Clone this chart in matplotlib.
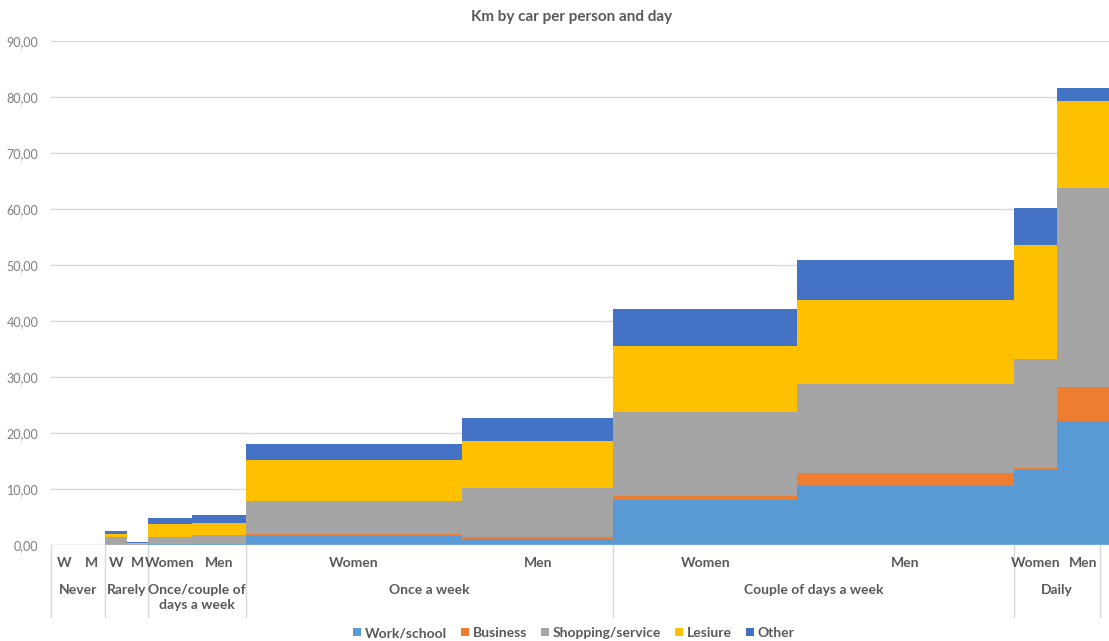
import numpy as np
import matplotlib
matplotlib.use("Agg")
import matplotlib.pyplot as plt
from matplotlib.patches import Patch
from matplotlib.transforms import blended_transform_factory

plt.rcParams['font.family'] = ['Lato', 'DejaVu Sans']

# Frequency groups and the two columns (women / men) inside each group
groups = ["Never", "Rarely", "Once/couple of\ndays a week", "Once a week",
          "Couple of days a week", "Daily"]
sub_labels = ["W", "M", "W", "M", "Women", "Men", "Women", "Men",
              "Women", "Men", "Women", "Men"]
group_of_bar = [0, 0, 1, 1, 2, 2, 3, 3, 4, 4, 5, 5]

# Column widths (share of respondents)
widths = [2.7, 2.7, 2.17, 2.16, 4.34, 5.4, 21.66, 15.1, 18.4, 21.64, 4.3, 5.3]

# Km by car per person and day, by purpose
work_school = [0.0, 0.0, 0.05, 0.05, 0.10, 0.10, 1.60, 1.07, 8.00, 10.50, 13.50, 22.20]
business    = [0.0, 0.0, 0.00, 0.00, 0.05, 0.05, 0.30, 0.42, 0.80, 2.30, 0.30, 6.00]
shopping    = [0.0, 0.0, 1.45, 0.20, 1.35, 1.65, 6.00, 8.75, 14.90, 15.90, 19.40, 35.60]
leisure     = [0.0, 0.0, 0.55, 0.05, 2.25, 2.20, 7.30, 8.33, 11.90, 15.05, 20.40, 15.40]
other       = [0.0, 0.0, 0.45, 0.30, 1.00, 1.35, 2.80, 4.17, 6.50, 7.15, 6.50, 2.35]

series_names = ["Work/school", "Business", "Shopping/service", "Lesiure", "Other"]
series_values = [work_school, business, shopping, leisure, other]
series_colors = ["#5B9BD5", "#ED7D31", "#A5A5A5", "#FFC000", "#4472C4"]

y_ticks = [0, 10, 20, 30, 40, 50, 60, 70, 80, 90]

W, H = 1109, 641
fig = plt.figure(figsize=(W / 100, H / 100), dpi=100)
ax = fig.add_axes([51 / W, 1 - 545 / H, (W - 51) / W, 504 / H])

w = np.array(widths)
lefts = np.concatenate([[0], np.cumsum(w)[:-1]])
bottom = np.zeros(len(w))
for name, vals, col in zip(series_names, series_values, series_colors):
    vals = np.array(vals)
    ax.bar(lefts, vals, width=w, bottom=bottom, align='edge', color=col,
           linewidth=0, zorder=3)
    bottom += vals

x_max = 105.8
ax.set_xlim(0, x_max)
ax.set_ylim(0, 90)
ax.set_yticks(y_ticks)
ax.set_yticklabels([f"{v:.2f}".replace('.', ',') for v in y_ticks])
ax.tick_params(axis='y', length=0, pad=9, labelsize=9, labelcolor='#7F7F7F')
ax.set_xticks([])
ax.grid(axis='y', color='#D9D9D9', linewidth=1.0, zorder=0)
for s in ax.spines.values():
    s.set_visible(False)
ax.axhline(0, color='#D9D9D9', linewidth=1.0, zorder=4)

trans = blended_transform_factory(ax.transData, ax.transAxes)
lab_color = '#595959'

# Inner labels (W / M, Women / Men)
centers = lefts + w / 2
for cx, lab in zip(centers, sub_labels):
    ax.text(cx, -18 / 504, lab, transform=trans, ha='center', va='center',
            fontsize=10, fontweight='bold', color=lab_color)

# Group labels and separators below the axis
edges = [0.0]
for g in range(len(groups)):
    idx = [i for i, gg in enumerate(group_of_bar) if gg == g]
    edges.append(lefts[idx[-1]] + w[idx[-1]])
edges[-1] = min(edges[-1], x_max - 0.9)
for g, name in enumerate(groups):
    cx = (edges[g] + edges[g + 1]) / 2
    ax.text(cx, -39 / 504, name, transform=trans, ha='center', va='top',
            fontsize=10, fontweight='bold', color=lab_color, linespacing=1.3)
for e in edges:
    ax.plot([e, e], [0, -72 / 504], transform=trans, color='#D9D9D9',
            linewidth=1.0, clip_on=False, zorder=1)

fig.text(572 / W, 1 - 17 / H, "Km by car per person and day", ha='center',
         va='center', fontsize=11, fontweight='bold', color=lab_color)

handles = [Patch(facecolor=c, edgecolor='none') for c in series_colors]
leg = fig.legend(handles, series_names, loc='center', ncol=5, frameon=False,
                 bbox_to_anchor=(574 / W, 1 - 633 / H), handlelength=0.55,
                 handleheight=0.55, handletextpad=0.3, columnspacing=1.0,
                 prop={'size': 10, 'weight': 'bold'})
for t in leg.get_texts():
    t.set_color(lab_color)

fig.savefig("out.png", dpi=100)
